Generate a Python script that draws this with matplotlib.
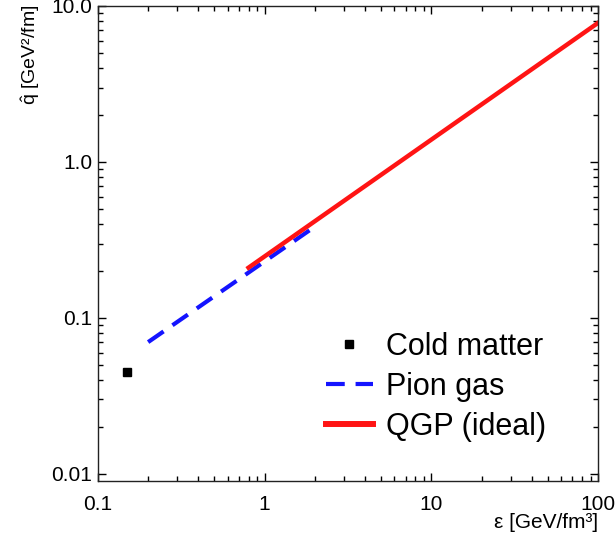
import numpy as np
import matplotlib
matplotlib.use("Agg")
import matplotlib.pyplot as plt
from matplotlib.ticker import FixedLocator, FixedFormatter, LogLocator, NullFormatter

plt.rcParams["font.family"] = ["Liberation Sans", "DejaVu Sans"]
plt.rcParams["mathtext.fontset"] = "custom"
plt.rcParams["mathtext.rm"] = "Liberation Sans"
plt.rcParams["mathtext.it"] = "Liberation Sans"

# values
cold_eps = [0.15]
cold_qhat = [0.045]

pion_eps = [0.2, 2.0]
pion_qhat = [0.070, 0.385]

qgp_eps = [0.8, 100.0]
qgp_qhat = [0.21, 7.8]

xticks = [0.1, 1, 10, 100]
xticklabels = ["0.1", "1", "10", "100"]
yticks = [0.01, 0.1, 1.0, 10.0]
yticklabels = ["0.01", "0.1", "1.0", "10.0"]

fig = plt.figure(figsize=(6.16, 5.44), dpi=100)
ax = fig.add_axes([0.159, 0.116, 0.812, 0.873])

ax.plot(cold_eps, cold_qhat, "s", color="black", markersize=6, linestyle="none",
        label="Cold matter")
ax.plot(pion_eps, pion_qhat, color="#1414ff", linewidth=3, dashes=(4.5, 2.6),
        label="Pion gas")
ax.plot(qgp_eps, qgp_qhat, color="#ff1414", linewidth=3.2, label="QGP (ideal)")

ax.set_xscale("log")
ax.set_yscale("log")
ax.set_xlim(0.1, 100)
ax.set_ylim(0.00902, 10)

ax.xaxis.set_major_locator(FixedLocator(xticks))
ax.xaxis.set_major_formatter(FixedFormatter(xticklabels))
ax.yaxis.set_major_locator(FixedLocator(yticks))
ax.yaxis.set_major_formatter(FixedFormatter(yticklabels))
ax.xaxis.set_minor_locator(LogLocator(base=10, subs=np.arange(2, 10)))
ax.yaxis.set_minor_locator(LogLocator(base=10, subs=np.arange(2, 10)))
ax.xaxis.set_minor_formatter(NullFormatter())
ax.yaxis.set_minor_formatter(NullFormatter())

ax.tick_params(which="both", direction="in", top=True, right=True, labelsize=15,
               width=1, color="black")
ax.tick_params(which="major", length=6)
ax.tick_params(which="minor", length=3.5)
ax.tick_params(axis="x", which="major", pad=10)
ax.tick_params(axis="y", which="major", pad=4)
for s in ax.spines.values():
    s.set_linewidth(1)
    s.set_color("#222222")

fig.text(0.971, 0.04, "ε [GeV/fm³]", ha="right", va="center", fontsize=15)
fig.text(0.05, 0.992, r"$\hat{\mathrm{q}}$ [GeV²/fm]", rotation=90, ha="center",
         va="top", fontsize=14)

leg = ax.legend(loc="upper left", bbox_to_anchor=(0.455, 0.314), frameon=False,
                fontsize=22, handlelength=1.55, handletextpad=0.43, labelspacing=0.33,
                borderpad=0, borderaxespad=0)
leg.get_lines()[2].set_linewidth(4.3)

fig.savefig("out.png", dpi=100)
